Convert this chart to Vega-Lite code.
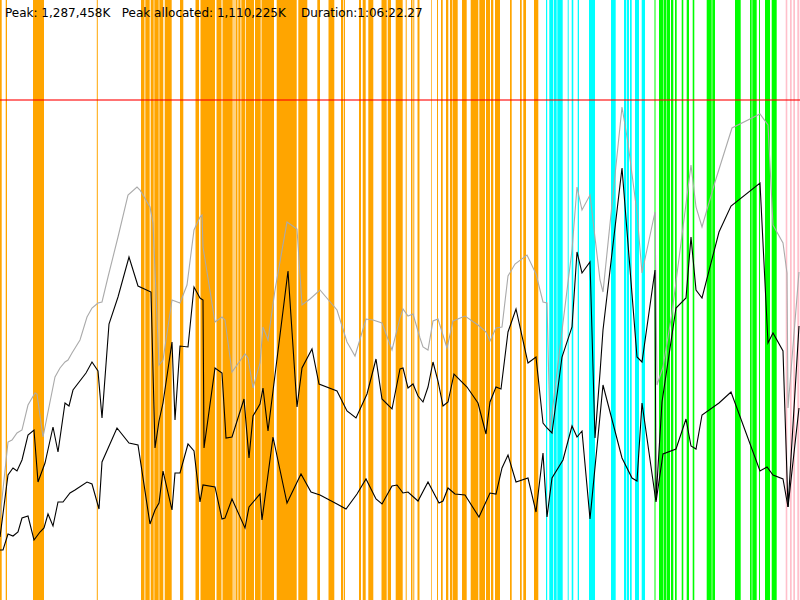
{
  "$schema": "https://vega.github.io/schema/vega-lite/v6.json",
  "width": 800,
  "height": 600,
  "autosize": {"type": "none"},
  "padding": 0,
  "config": {"view": {"stroke": null}},
  "resolve": {"scale": {"color": "independent"}},
  "datasets": {
    "events": [
      {"kind": "gc", "start": 0, "end": 1.7},
      {"kind": "gc", "start": 5.7, "end": 7},
      {"kind": "gc", "start": 33, "end": 44},
      {"kind": "gc", "start": 96.8, "end": 97.8},
      {"kind": "gc", "start": 141, "end": 144.5},
      {"kind": "gc", "start": 145.3, "end": 149.7},
      {"kind": "gc", "start": 150.7, "end": 153.7},
      {"kind": "gc", "start": 154.3, "end": 158.7},
      {"kind": "gc", "start": 159.3, "end": 163.3},
      {"kind": "gc", "start": 164.7, "end": 171.7},
      {"kind": "gc", "start": 180, "end": 183.3},
      {"kind": "gc", "start": 195.5, "end": 199},
      {"kind": "gc", "start": 200.5, "end": 215},
      {"kind": "gc", "start": 216.5, "end": 221.5},
      {"kind": "gc", "start": 222.5, "end": 232.7},
      {"kind": "gc", "start": 233.5, "end": 234.5},
      {"kind": "gc", "start": 235.5, "end": 237.5},
      {"kind": "gc", "start": 238.3, "end": 240.5},
      {"kind": "gc", "start": 241.3, "end": 245},
      {"kind": "gc", "start": 245.7, "end": 254},
      {"kind": "gc", "start": 255, "end": 260.7},
      {"kind": "gc", "start": 261.5, "end": 274},
      {"kind": "gc", "start": 276.7, "end": 296.7},
      {"kind": "gc", "start": 298.3, "end": 307.3},
      {"kind": "gc", "start": 317.3, "end": 320},
      {"kind": "gc", "start": 328.5, "end": 334.3},
      {"kind": "gc", "start": 341, "end": 343.3},
      {"kind": "gc", "start": 344, "end": 345},
      {"kind": "gc", "start": 359, "end": 361},
      {"kind": "gc", "start": 362.7, "end": 365.7},
      {"kind": "gc", "start": 368.3, "end": 373.3},
      {"kind": "gc", "start": 381.5, "end": 386.7},
      {"kind": "gc", "start": 387.7, "end": 391},
      {"kind": "gc", "start": 395.7, "end": 402.7},
      {"kind": "gc", "start": 405.7, "end": 406.7},
      {"kind": "gc", "start": 411, "end": 412.5},
      {"kind": "gc", "start": 413.3, "end": 414.3},
      {"kind": "gc", "start": 417.5, "end": 419.5},
      {"kind": "gc", "start": 431, "end": 431.7},
      {"kind": "gc", "start": 437, "end": 438},
      {"kind": "gc", "start": 441, "end": 442.7},
      {"kind": "gc", "start": 446, "end": 448.3},
      {"kind": "gc", "start": 450, "end": 452.3},
      {"kind": "gc", "start": 452.8, "end": 457.7},
      {"kind": "gc", "start": 462, "end": 466.7},
      {"kind": "gc", "start": 470.7, "end": 478.3},
      {"kind": "gc", "start": 479.3, "end": 485},
      {"kind": "gc", "start": 486, "end": 490},
      {"kind": "gc", "start": 491, "end": 493.3},
      {"kind": "gc", "start": 495, "end": 500},
      {"kind": "gc", "start": 510, "end": 511.7},
      {"kind": "gc", "start": 520, "end": 521.7},
      {"kind": "gc", "start": 523.3, "end": 526},
      {"kind": "gc", "start": 534, "end": 538.3},
      {"kind": "jit", "start": 546, "end": 547.2},
      {"kind": "jit", "start": 549.3, "end": 553.3},
      {"kind": "jit", "start": 554, "end": 556.7},
      {"kind": "jit", "start": 557.3, "end": 562.7},
      {"kind": "jit", "start": 567.7, "end": 568.7},
      {"kind": "jit", "start": 571.7, "end": 573.3},
      {"kind": "jit", "start": 577.7, "end": 579},
      {"kind": "jit", "start": 589, "end": 595},
      {"kind": "jit", "start": 611, "end": 615.7},
      {"kind": "jit", "start": 624, "end": 626},
      {"kind": "jit", "start": 626.7, "end": 629},
      {"kind": "jit", "start": 630, "end": 631.7},
      {"kind": "jit", "start": 635, "end": 639},
      {"kind": "jit", "start": 641.7, "end": 645},
      {"kind": "io", "start": 654.5, "end": 655.5},
      {"kind": "io", "start": 659, "end": 663},
      {"kind": "io", "start": 663.5, "end": 666.5},
      {"kind": "io", "start": 667, "end": 670},
      {"kind": "io", "start": 671, "end": 673.3},
      {"kind": "io", "start": 675, "end": 676.7},
      {"kind": "io", "start": 681.7, "end": 683.3},
      {"kind": "io", "start": 686.7, "end": 689},
      {"kind": "io", "start": 692.7, "end": 694.3},
      {"kind": "io", "start": 706.7, "end": 711.7},
      {"kind": "io", "start": 712.3, "end": 715},
      {"kind": "io", "start": 735, "end": 740.7},
      {"kind": "io", "start": 750, "end": 751.7},
      {"kind": "io", "start": 752.3, "end": 756.7},
      {"kind": "io", "start": 759, "end": 760},
      {"kind": "io", "start": 765, "end": 770},
      {"kind": "io", "start": 771.7, "end": 776.7},
      {"kind": "misc", "start": 785.7, "end": 787.3},
      {"kind": "misc", "start": 790, "end": 791.7},
      {"kind": "misc", "start": 793.3, "end": 795},
      {"kind": "misc", "start": 797.3, "end": 799.3}
    ],
    "memory": [
      {"series": "reserved", "t": 0, "mem": 82},
      {"series": "reserved", "t": 8, "mem": 158},
      {"series": "reserved", "t": 12, "mem": 160},
      {"series": "reserved", "t": 17, "mem": 167},
      {"series": "reserved", "t": 22, "mem": 170},
      {"series": "reserved", "t": 28, "mem": 195},
      {"series": "reserved", "t": 35, "mem": 207},
      {"series": "reserved", "t": 37, "mem": 206},
      {"series": "reserved", "t": 43, "mem": 163},
      {"series": "reserved", "t": 55, "mem": 223},
      {"series": "reserved", "t": 60, "mem": 232},
      {"series": "reserved", "t": 65, "mem": 238},
      {"series": "reserved", "t": 68, "mem": 240},
      {"series": "reserved", "t": 72, "mem": 247},
      {"series": "reserved", "t": 80, "mem": 260},
      {"series": "reserved", "t": 87, "mem": 283},
      {"series": "reserved", "t": 92, "mem": 292},
      {"series": "reserved", "t": 98, "mem": 297},
      {"series": "reserved", "t": 102, "mem": 298},
      {"series": "reserved", "t": 108, "mem": 323},
      {"series": "reserved", "t": 118, "mem": 363},
      {"series": "reserved", "t": 128, "mem": 405},
      {"series": "reserved", "t": 137, "mem": 413},
      {"series": "reserved", "t": 140, "mem": 410},
      {"series": "reserved", "t": 150, "mem": 393},
      {"series": "reserved", "t": 153, "mem": 377},
      {"series": "reserved", "t": 159, "mem": 235},
      {"series": "reserved", "t": 163, "mem": 240},
      {"series": "reserved", "t": 172, "mem": 300},
      {"series": "reserved", "t": 180, "mem": 297},
      {"series": "reserved", "t": 187, "mem": 315},
      {"series": "reserved", "t": 194, "mem": 370},
      {"series": "reserved", "t": 200, "mem": 383},
      {"series": "reserved", "t": 202, "mem": 385},
      {"series": "reserved", "t": 203, "mem": 353},
      {"series": "reserved", "t": 215, "mem": 278},
      {"series": "reserved", "t": 222, "mem": 283},
      {"series": "reserved", "t": 225, "mem": 280},
      {"series": "reserved", "t": 232, "mem": 228},
      {"series": "reserved", "t": 245, "mem": 246},
      {"series": "reserved", "t": 248, "mem": 242},
      {"series": "reserved", "t": 253, "mem": 212},
      {"series": "reserved", "t": 260, "mem": 237},
      {"series": "reserved", "t": 263, "mem": 273},
      {"series": "reserved", "t": 268, "mem": 260},
      {"series": "reserved", "t": 275, "mem": 310},
      {"series": "reserved", "t": 287, "mem": 378},
      {"series": "reserved", "t": 297, "mem": 371},
      {"series": "reserved", "t": 302, "mem": 295},
      {"series": "reserved", "t": 310, "mem": 301},
      {"series": "reserved", "t": 320, "mem": 310},
      {"series": "reserved", "t": 337, "mem": 290},
      {"series": "reserved", "t": 347, "mem": 258},
      {"series": "reserved", "t": 355, "mem": 244},
      {"series": "reserved", "t": 366, "mem": 281},
      {"series": "reserved", "t": 373, "mem": 280},
      {"series": "reserved", "t": 382, "mem": 277},
      {"series": "reserved", "t": 392, "mem": 250},
      {"series": "reserved", "t": 400, "mem": 282},
      {"series": "reserved", "t": 403, "mem": 291},
      {"series": "reserved", "t": 408, "mem": 284},
      {"series": "reserved", "t": 413, "mem": 286},
      {"series": "reserved", "t": 420, "mem": 262},
      {"series": "reserved", "t": 423, "mem": 253},
      {"series": "reserved", "t": 428, "mem": 250},
      {"series": "reserved", "t": 433, "mem": 279},
      {"series": "reserved", "t": 438, "mem": 281},
      {"series": "reserved", "t": 447, "mem": 252},
      {"series": "reserved", "t": 453, "mem": 279},
      {"series": "reserved", "t": 465, "mem": 284},
      {"series": "reserved", "t": 478, "mem": 275},
      {"series": "reserved", "t": 486, "mem": 268},
      {"series": "reserved", "t": 490, "mem": 259},
      {"series": "reserved", "t": 496, "mem": 272},
      {"series": "reserved", "t": 502, "mem": 273},
      {"series": "reserved", "t": 508, "mem": 324},
      {"series": "reserved", "t": 515, "mem": 336},
      {"series": "reserved", "t": 527, "mem": 345},
      {"series": "reserved", "t": 536, "mem": 326},
      {"series": "reserved", "t": 543, "mem": 298},
      {"series": "reserved", "t": 547, "mem": 297},
      {"series": "reserved", "t": 550, "mem": 170},
      {"series": "reserved", "t": 560, "mem": 253},
      {"series": "reserved", "t": 572, "mem": 350},
      {"series": "reserved", "t": 577, "mem": 413},
      {"series": "reserved", "t": 582, "mem": 390},
      {"series": "reserved", "t": 590, "mem": 405},
      {"series": "reserved", "t": 600, "mem": 320},
      {"series": "reserved", "t": 603, "mem": 308},
      {"series": "reserved", "t": 622, "mem": 493},
      {"series": "reserved", "t": 628, "mem": 457},
      {"series": "reserved", "t": 637, "mem": 387},
      {"series": "reserved", "t": 642, "mem": 327},
      {"series": "reserved", "t": 655, "mem": 388},
      {"series": "reserved", "t": 657, "mem": 215},
      {"series": "reserved", "t": 663, "mem": 233},
      {"series": "reserved", "t": 672, "mem": 287},
      {"series": "reserved", "t": 691, "mem": 435},
      {"series": "reserved", "t": 696, "mem": 393},
      {"series": "reserved", "t": 702, "mem": 373},
      {"series": "reserved", "t": 715, "mem": 418},
      {"series": "reserved", "t": 732, "mem": 472},
      {"series": "reserved", "t": 760, "mem": 486},
      {"series": "reserved", "t": 768, "mem": 475},
      {"series": "reserved", "t": 773, "mem": 375},
      {"series": "reserved", "t": 783, "mem": 357},
      {"series": "reserved", "t": 787, "mem": 327},
      {"series": "reserved", "t": 788, "mem": 192},
      {"series": "reserved", "t": 799, "mem": 328},
      {"series": "allocated", "t": 0, "mem": 63},
      {"series": "allocated", "t": 8, "mem": 125},
      {"series": "allocated", "t": 13, "mem": 132},
      {"series": "allocated", "t": 17, "mem": 129},
      {"series": "allocated", "t": 22, "mem": 140},
      {"series": "allocated", "t": 28, "mem": 165},
      {"series": "allocated", "t": 34, "mem": 170},
      {"series": "allocated", "t": 38, "mem": 118},
      {"series": "allocated", "t": 45, "mem": 137},
      {"series": "allocated", "t": 53, "mem": 173},
      {"series": "allocated", "t": 58, "mem": 148},
      {"series": "allocated", "t": 65, "mem": 197},
      {"series": "allocated", "t": 69, "mem": 194},
      {"series": "allocated", "t": 73, "mem": 210},
      {"series": "allocated", "t": 86, "mem": 227},
      {"series": "allocated", "t": 92, "mem": 238},
      {"series": "allocated", "t": 98, "mem": 229},
      {"series": "allocated", "t": 102, "mem": 182},
      {"series": "allocated", "t": 109, "mem": 276},
      {"series": "allocated", "t": 118, "mem": 303},
      {"series": "allocated", "t": 129, "mem": 343},
      {"series": "allocated", "t": 138, "mem": 314},
      {"series": "allocated", "t": 151, "mem": 308},
      {"series": "allocated", "t": 155, "mem": 152},
      {"series": "allocated", "t": 159, "mem": 179},
      {"series": "allocated", "t": 163, "mem": 197},
      {"series": "allocated", "t": 172, "mem": 258},
      {"series": "allocated", "t": 175, "mem": 180},
      {"series": "allocated", "t": 180, "mem": 254},
      {"series": "allocated", "t": 188, "mem": 253},
      {"series": "allocated", "t": 194, "mem": 313},
      {"series": "allocated", "t": 200, "mem": 302},
      {"series": "allocated", "t": 203, "mem": 300},
      {"series": "allocated", "t": 204, "mem": 152},
      {"series": "allocated", "t": 215, "mem": 232},
      {"series": "allocated", "t": 222, "mem": 227},
      {"series": "allocated", "t": 226, "mem": 162},
      {"series": "allocated", "t": 232, "mem": 163},
      {"series": "allocated", "t": 244, "mem": 201},
      {"series": "allocated", "t": 249, "mem": 142},
      {"series": "allocated", "t": 253, "mem": 184},
      {"series": "allocated", "t": 260, "mem": 196},
      {"series": "allocated", "t": 263, "mem": 212},
      {"series": "allocated", "t": 268, "mem": 169},
      {"series": "allocated", "t": 288, "mem": 329},
      {"series": "allocated", "t": 297, "mem": 193},
      {"series": "allocated", "t": 302, "mem": 232},
      {"series": "allocated", "t": 312, "mem": 251},
      {"series": "allocated", "t": 319, "mem": 216},
      {"series": "allocated", "t": 337, "mem": 209},
      {"series": "allocated", "t": 347, "mem": 189},
      {"series": "allocated", "t": 356, "mem": 182},
      {"series": "allocated", "t": 367, "mem": 206},
      {"series": "allocated", "t": 376, "mem": 241},
      {"series": "allocated", "t": 382, "mem": 201},
      {"series": "allocated", "t": 392, "mem": 191},
      {"series": "allocated", "t": 400, "mem": 231},
      {"series": "allocated", "t": 403, "mem": 232},
      {"series": "allocated", "t": 408, "mem": 212},
      {"series": "allocated", "t": 413, "mem": 216},
      {"series": "allocated", "t": 418, "mem": 204},
      {"series": "allocated", "t": 423, "mem": 198},
      {"series": "allocated", "t": 428, "mem": 213},
      {"series": "allocated", "t": 433, "mem": 238},
      {"series": "allocated", "t": 438, "mem": 219},
      {"series": "allocated", "t": 443, "mem": 194},
      {"series": "allocated", "t": 448, "mem": 198},
      {"series": "allocated", "t": 454, "mem": 226},
      {"series": "allocated", "t": 467, "mem": 213},
      {"series": "allocated", "t": 478, "mem": 197},
      {"series": "allocated", "t": 486, "mem": 166},
      {"series": "allocated", "t": 490, "mem": 198},
      {"series": "allocated", "t": 496, "mem": 213},
      {"series": "allocated", "t": 501, "mem": 211},
      {"series": "allocated", "t": 508, "mem": 268},
      {"series": "allocated", "t": 516, "mem": 291},
      {"series": "allocated", "t": 528, "mem": 237},
      {"series": "allocated", "t": 536, "mem": 243},
      {"series": "allocated", "t": 543, "mem": 177},
      {"series": "allocated", "t": 547, "mem": 172},
      {"series": "allocated", "t": 552, "mem": 167},
      {"series": "allocated", "t": 562, "mem": 243},
      {"series": "allocated", "t": 572, "mem": 273},
      {"series": "allocated", "t": 577, "mem": 348},
      {"series": "allocated", "t": 582, "mem": 327},
      {"series": "allocated", "t": 590, "mem": 338},
      {"series": "allocated", "t": 595, "mem": 162},
      {"series": "allocated", "t": 600, "mem": 227},
      {"series": "allocated", "t": 603, "mem": 270},
      {"series": "allocated", "t": 622, "mem": 432},
      {"series": "allocated", "t": 637, "mem": 243},
      {"series": "allocated", "t": 642, "mem": 238},
      {"series": "allocated", "t": 655, "mem": 330},
      {"series": "allocated", "t": 656, "mem": 100},
      {"series": "allocated", "t": 662, "mem": 198},
      {"series": "allocated", "t": 676, "mem": 292},
      {"series": "allocated", "t": 686, "mem": 302},
      {"series": "allocated", "t": 691, "mem": 363},
      {"series": "allocated", "t": 696, "mem": 310},
      {"series": "allocated", "t": 702, "mem": 302},
      {"series": "allocated", "t": 719, "mem": 368},
      {"series": "allocated", "t": 731, "mem": 394},
      {"series": "allocated", "t": 760, "mem": 417},
      {"series": "allocated", "t": 768, "mem": 257},
      {"series": "allocated", "t": 773, "mem": 267},
      {"series": "allocated", "t": 783, "mem": 249},
      {"series": "allocated", "t": 788, "mem": 93},
      {"series": "allocated", "t": 799, "mem": 274},
      {"series": "live", "t": 0, "mem": 50},
      {"series": "live", "t": 3, "mem": 50},
      {"series": "live", "t": 8, "mem": 66},
      {"series": "live", "t": 13, "mem": 64},
      {"series": "live", "t": 18, "mem": 68},
      {"series": "live", "t": 22, "mem": 82},
      {"series": "live", "t": 28, "mem": 84},
      {"series": "live", "t": 34, "mem": 60},
      {"series": "live", "t": 40, "mem": 68},
      {"series": "live", "t": 44, "mem": 72},
      {"series": "live", "t": 48, "mem": 86},
      {"series": "live", "t": 53, "mem": 74},
      {"series": "live", "t": 58, "mem": 98},
      {"series": "live", "t": 63, "mem": 98},
      {"series": "live", "t": 70, "mem": 107},
      {"series": "live", "t": 75, "mem": 110},
      {"series": "live", "t": 87, "mem": 118},
      {"series": "live", "t": 92, "mem": 116},
      {"series": "live", "t": 99, "mem": 91},
      {"series": "live", "t": 102, "mem": 138},
      {"series": "live", "t": 117, "mem": 172},
      {"series": "live", "t": 129, "mem": 157},
      {"series": "live", "t": 138, "mem": 155},
      {"series": "live", "t": 150, "mem": 76},
      {"series": "live", "t": 155, "mem": 90},
      {"series": "live", "t": 159, "mem": 97},
      {"series": "live", "t": 163, "mem": 129},
      {"series": "live", "t": 172, "mem": 90},
      {"series": "live", "t": 175, "mem": 127},
      {"series": "live", "t": 180, "mem": 127},
      {"series": "live", "t": 188, "mem": 156},
      {"series": "live", "t": 194, "mem": 149},
      {"series": "live", "t": 200, "mem": 98},
      {"series": "live", "t": 203, "mem": 115},
      {"series": "live", "t": 215, "mem": 113},
      {"series": "live", "t": 222, "mem": 81},
      {"series": "live", "t": 225, "mem": 82},
      {"series": "live", "t": 232, "mem": 101},
      {"series": "live", "t": 245, "mem": 72},
      {"series": "live", "t": 249, "mem": 93},
      {"series": "live", "t": 260, "mem": 106},
      {"series": "live", "t": 262, "mem": 80},
      {"series": "live", "t": 273, "mem": 163},
      {"series": "live", "t": 287, "mem": 97},
      {"series": "live", "t": 301, "mem": 126},
      {"series": "live", "t": 311, "mem": 108},
      {"series": "live", "t": 320, "mem": 105},
      {"series": "live", "t": 337, "mem": 96},
      {"series": "live", "t": 346, "mem": 91},
      {"series": "live", "t": 357, "mem": 106},
      {"series": "live", "t": 366, "mem": 121},
      {"series": "live", "t": 376, "mem": 101},
      {"series": "live", "t": 382, "mem": 96},
      {"series": "live", "t": 392, "mem": 114},
      {"series": "live", "t": 397, "mem": 115},
      {"series": "live", "t": 403, "mem": 107},
      {"series": "live", "t": 408, "mem": 108},
      {"series": "live", "t": 418, "mem": 99},
      {"series": "live", "t": 428, "mem": 118},
      {"series": "live", "t": 439, "mem": 97},
      {"series": "live", "t": 443, "mem": 99},
      {"series": "live", "t": 448, "mem": 112},
      {"series": "live", "t": 455, "mem": 106},
      {"series": "live", "t": 465, "mem": 105},
      {"series": "live", "t": 479, "mem": 83},
      {"series": "live", "t": 490, "mem": 107},
      {"series": "live", "t": 496, "mem": 106},
      {"series": "live", "t": 502, "mem": 132},
      {"series": "live", "t": 508, "mem": 145},
      {"series": "live", "t": 516, "mem": 118},
      {"series": "live", "t": 528, "mem": 122},
      {"series": "live", "t": 536, "mem": 88},
      {"series": "live", "t": 543, "mem": 147},
      {"series": "live", "t": 547, "mem": 83},
      {"series": "live", "t": 552, "mem": 122},
      {"series": "live", "t": 563, "mem": 140},
      {"series": "live", "t": 572, "mem": 174},
      {"series": "live", "t": 577, "mem": 163},
      {"series": "live", "t": 582, "mem": 169},
      {"series": "live", "t": 590, "mem": 81},
      {"series": "live", "t": 603, "mem": 215},
      {"series": "live", "t": 622, "mem": 142},
      {"series": "live", "t": 632, "mem": 122},
      {"series": "live", "t": 637, "mem": 119},
      {"series": "live", "t": 642, "mem": 197},
      {"series": "live", "t": 656, "mem": 98},
      {"series": "live", "t": 663, "mem": 146},
      {"series": "live", "t": 676, "mem": 151},
      {"series": "live", "t": 686, "mem": 181},
      {"series": "live", "t": 691, "mem": 154},
      {"series": "live", "t": 696, "mem": 151},
      {"series": "live", "t": 702, "mem": 185},
      {"series": "live", "t": 719, "mem": 197},
      {"series": "live", "t": 731, "mem": 208},
      {"series": "live", "t": 760, "mem": 129},
      {"series": "live", "t": 767, "mem": 133},
      {"series": "live", "t": 773, "mem": 125},
      {"series": "live", "t": 783, "mem": 121},
      {"series": "live", "t": 788, "mem": 93},
      {"series": "live", "t": 799, "mem": 192}
    ]
  },
  "layer": [
    {
      "data": {"name": "events"},
      "mark": {"type": "rect"},
      "encoding": {
        "x": {"field": "start", "type": "quantitative", "scale": {"domain": [0, 800], "nice": false, "zero": false}, "axis": null},
        "x2": {"field": "end"},
        "y": {"datum": 0, "type": "quantitative", "scale": {"domain": [0, 600], "nice": false}, "axis": null},
        "y2": {"datum": 600},
        "color": {
          "field": "kind",
          "type": "nominal",
          "scale": {"domain": ["gc", "jit", "io", "misc"], "range": ["#ffa500", "#00ffff", "#00ff00", "#ffc0cb"]},
          "legend": null
        }
      }
    },
    {
      "data": {"values": [{"peak": 500}]},
      "mark": {"type": "rule", "color": "#ff0000", "opacity": 0.55, "strokeWidth": 2},
      "encoding": {
        "y": {"field": "peak", "type": "quantitative"}
      }
    },
    {
      "data": {"name": "memory"},
      "mark": {"type": "line", "strokeWidth": 1.1},
      "encoding": {
        "x": {"field": "t", "type": "quantitative"},
        "y": {"field": "mem", "type": "quantitative"},
        "color": {
          "field": "series",
          "type": "nominal",
          "scale": {"domain": ["reserved", "allocated", "live"], "range": ["#aaaaaa", "#000000", "#000000"]},
          "legend": null
        }
      }
    },
    {
      "data": {"values": [{"t": 5, "mem": 583, "label": "Peak: 1,287,458K\u00a0\u00a0\u00a0Peak allocated: 1,110,225K\u00a0\u00a0\u00a0\u00a0Duration:1:06:22.27"}]},
      "mark": {"type": "text", "align": "left", "baseline": "alphabetic", "font": "DejaVu Sans", "fontSize": 12, "color": "#000000"},
      "encoding": {
        "x": {"field": "t", "type": "quantitative"},
        "y": {"field": "mem", "type": "quantitative"},
        "text": {"field": "label"}
      }
    }
  ]
}
